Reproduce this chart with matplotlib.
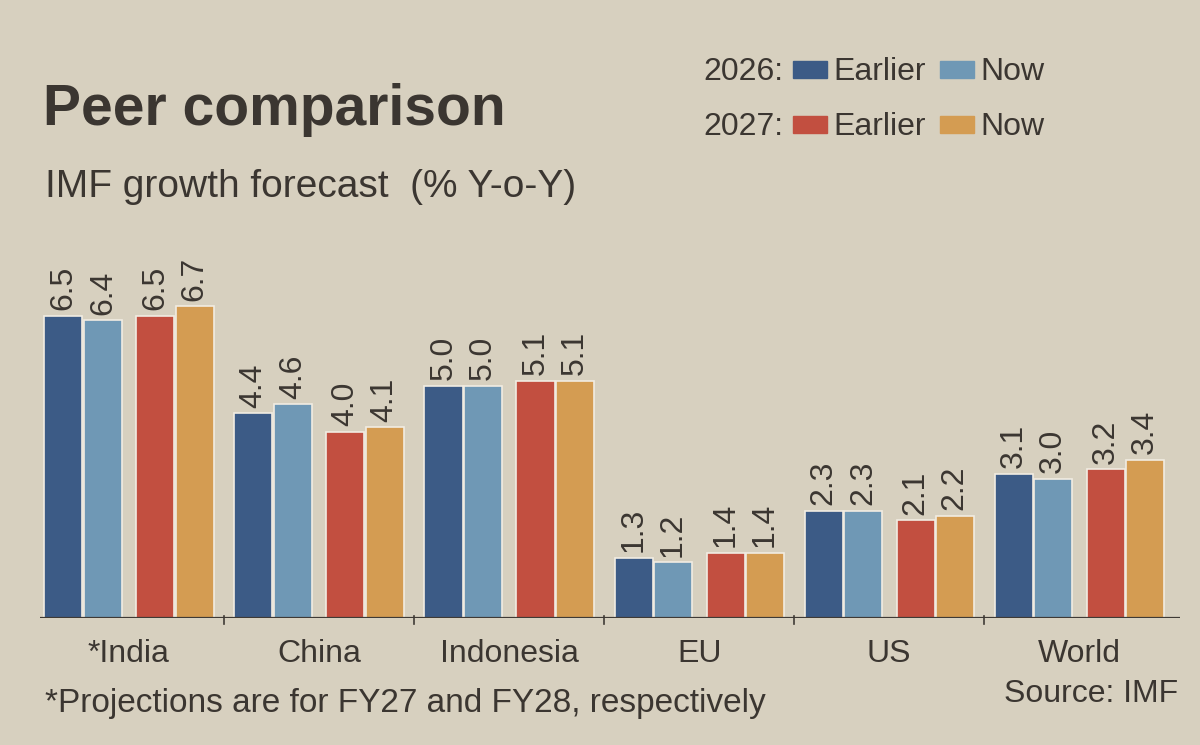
import matplotlib
matplotlib.use("Agg")
import matplotlib.pyplot as plt
from matplotlib.patches import Rectangle

plt.rcParams['font.family'] = ['Liberation Sans', 'DejaVu Sans']

categories = ["*India", "China", "Indonesia", "EU", "US", "World"]
earlier_2026 = [6.5, 4.4, 5.0, 1.3, 2.3, 3.1]
now_2026 = [6.4, 4.6, 5.0, 1.2, 2.3, 3.0]
earlier_2027 = [6.5, 4.0, 5.1, 1.4, 2.1, 3.2]
now_2027 = [6.7, 4.1, 5.1, 1.4, 2.2, 3.4]
series = [earlier_2026, now_2026, earlier_2027, now_2027]

BG = "#d7d0bf"
TXT = "#3b3631"
colors = ["#3c5b86", "#6f98b5", "#c24f40", "#d49c52"]
offsets = [-0.345, -0.137, 0.139, 0.345]
width = 0.2

fig = plt.figure(figsize=(12, 7.45), dpi=100, facecolor=BG)
ax = fig.add_axes([40/1200, 1-618/745, 1140/1200, 372/745])
ax.set_facecolor(BG)
ax.set_xlim(-0.468, 5.53)
ax.set_ylim(0, 8)
for s in ax.spines.values():
    s.set_visible(False)
ax.set_yticks([])
ax.set_xticks([])

xs = list(range(len(categories)))
for vals, off, c in zip(series, offsets, colors):
    ax.bar([x + off for x in xs], vals, width=width, color=c,
           edgecolor="#f1ece2", linewidth=1.2, zorder=2)
    for x, v in zip(xs, vals):
        ax.text(x + off, v + 0.12, f"{v:.1f}", rotation=90, ha="center",
                va="bottom", fontsize=23, color=TXT)

ax.axhline(0, color="#3f3a35", lw=1.6, zorder=3)
for b in [0.5, 1.5, 2.5, 3.5, 4.5]:
    ax.plot([b, b], [-0.12, 0.05], color="#3f3a35", lw=1.2, clip_on=False, zorder=3)

for x, c in zip(xs, categories):
    ax.text(x, -0.45, c, ha="center", va="top", fontsize=23, color=TXT)

fig.text(43/1200, 1-125/745, "Peer comparison", fontsize=41, fontweight="bold",
         color=TXT, ha="left", va="baseline")
fig.text(45/1200, 1-197/745, "IMF growth forecast  (% Y-o-Y)", fontsize=28,
         color=TXT, ha="left", va="baseline")
fig.text(45/1200, 1-712/745, "*Projections are for FY27 and FY28, respectively",
         fontsize=24, color=TXT, ha="left", va="baseline")
fig.text(1178/1200, 1-702/745, "Source: IMF", fontsize=23, color=TXT,
         ha="right", va="baseline")

# legend
rows = [("2026:", colors[0], colors[1], 80), ("2027:", colors[2], colors[3], 135)]
for lab, c1, c2, yb in rows:
    fig.text(703/1200, 1-yb/745, lab, fontsize=23, color=TXT, ha="left", va="baseline")
    for x0, c, t in [(793, c1, "Earlier"), (940, c2, "Now")]:
        fig.patches.append(Rectangle((x0/1200, 1-(yb-2)/745), 34/1200, 17/745,
                                     transform=fig.transFigure, color=c))
        fig.text((x0+40)/1200, 1-yb/745, t, fontsize=23, color=TXT,
                 ha="left", va="baseline")

fig.savefig("out.png", dpi=100, facecolor=BG)
